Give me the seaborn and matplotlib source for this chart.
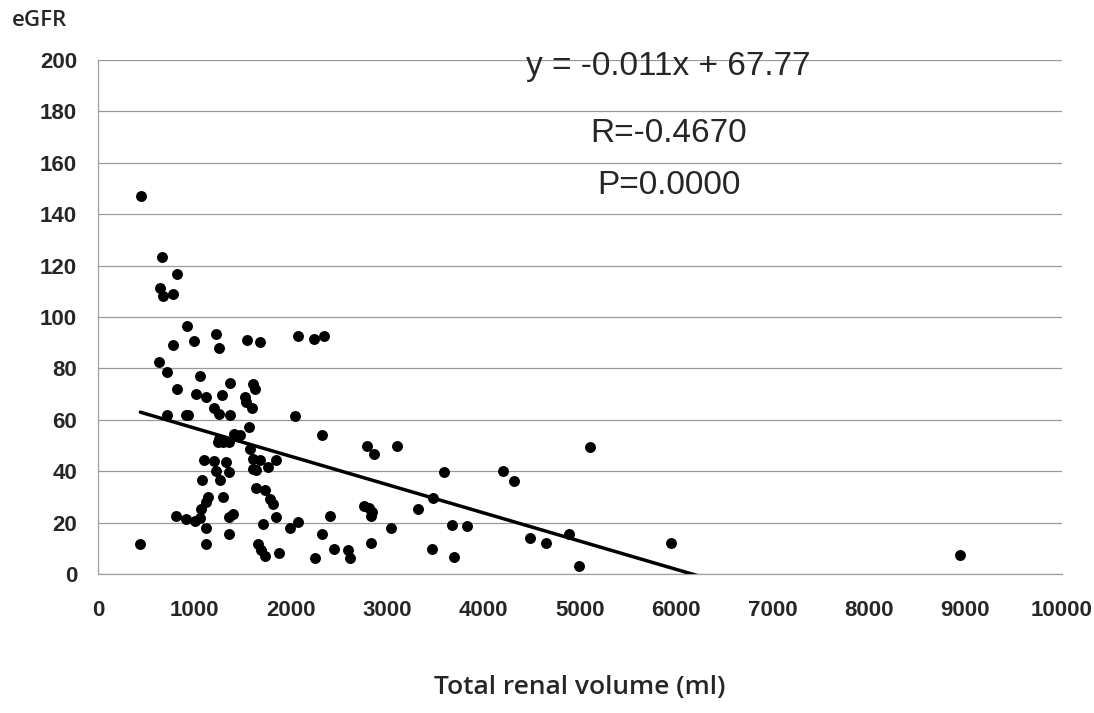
import numpy as np
import pandas as pd
import matplotlib
matplotlib.use("Agg")
import matplotlib.pyplot as plt
import seaborn as sns

# --- data ---
volume_ml = [
    446, 666, 823, 641, 677, 781, 927, 1220, 1548, 1681, 781, 997, 1259, 628, 718, 1060, 2078,
    823, 1015, 1119, 1374, 1283, 1610, 1630, 1520, 1538, 1597, 1206, 1259, 1374, 718, 910, 934,
    2043, 1562, 1416, 1468, 1259, 1294, 1363, 1241, 1572, 1102, 1199, 1328, 1607, 1677, 1851,
    1607, 1642, 1764, 1224, 1363, 1077, 1266, 1642, 1729, 1137, 1119, 1294, 1781, 1817, 1067,
    1398, 1363, 805, 910, 1004, 1060, 1845, 2078, 1119, 1712, 1991, 1357, 439, 1119, 1660,
    1695, 1736, 1880,
    2242, 2340, 2329, 2793, 2863, 3100, 3585, 3473, 2760, 2810, 2840, 2830, 3323, 2409, 3044,
    3672, 3828, 2322, 2828, 2451, 2591, 2612, 2252, 3466, 3693,
    5101, 4205, 4317, 4484, 4651, 4885, 4990, 5949, 8944,
]
egfr = [
    147, 123.3, 116.6, 111.4, 108, 108.8, 96.5, 93.5, 91.2, 90.4, 89.2, 90.7, 88.1, 82.5, 78.6, 76.9, 92.5,
    72.1, 70.2, 68.9, 74.3, 69.5, 74, 72, 68.9, 66.9, 64.7, 64.4, 62.4, 61.7, 61.7, 62, 61.7,
    61.4, 57, 54.6, 54, 52.7, 51.4, 51.4, 51.4, 48.8, 44.2, 44, 43.6, 44.9, 44.5, 44.5,
    41, 40.4, 41.6, 40, 39.7, 36.7, 36.5, 33.6, 32.6, 30, 28, 30, 29.3, 27.4, 25.4,
    23.5, 22.2, 22.5, 21.2, 20.6, 21.6, 22.2, 20.2, 17.7, 19.3, 17.7, 15.4, 11.8, 11.8, 11.6,
    9.2, 6.9, 8.3,
    91.3, 92.5, 54.2, 49.8, 46.5, 49.8, 39.7, 29.7, 26.5, 25.5, 24, 22.5, 25.4, 22.5, 17.7,
    19, 18.7, 15.4, 12.2, 9.9, 9.2, 6.4, 6.4, 9.9, 6.6,
    49.4, 40.1, 36.2, 13.8, 12.1, 15.4, 3.1, 12.2, 7.3,
]

# trendline as printed on the chart
slope = -0.011
intercept = 67.77
eq_text = "y = -0.011x + 67.77"
r_text = "R=-0.4670"
p_text = "P=0.0000"

x_ticks = [0, 1000, 2000, 3000, 4000, 5000, 6000, 7000, 8000, 9000, 10000]
y_ticks = [0, 20, 40, 60, 80, 100, 120, 140, 160, 180, 200]

df = pd.DataFrame({"volume": volume_ml, "egfr": egfr})
x_line = np.array([min(volume_ml), max(volume_ml)])
trend = pd.DataFrame({"volume": x_line, "egfr": slope * x_line + intercept})

# --- plot ---
sns.set_style("white")
plt.rcParams["font.family"] = ["Liberation Sans", "DejaVu Sans"]

fig = plt.figure(figsize=(10.94, 7.13), dpi=100)
ax = fig.add_axes([0.0896, 0.195, 0.881, 0.721])

sns.scatterplot(data=df, x="volume", y="egfr", ax=ax, color="black", s=62,
                edgecolor="black", linewidth=0, zorder=3)
sns.lineplot(data=trend, x="volume", y="egfr", ax=ax, color="black", linewidth=2.5, zorder=4)

ax.set_xlim(0, 10000)
ax.set_ylim(0, 200)
ax.set_xticks(x_ticks)
ax.set_yticks(y_ticks)
ax.set_xticklabels([str(v) for v in x_ticks], fontsize=16, fontweight="bold")
ax.set_yticklabels([str(v) for v in y_ticks], fontsize=16, fontweight="bold")
ax.tick_params(axis="x", length=0, pad=19)
ax.tick_params(axis="y", length=0, pad=15)
ax.yaxis.grid(True, color="#999999", linewidth=0.9)
ax.xaxis.grid(False)
for side in ["top", "right"]:
    ax.spines[side].set_visible(False)
for side in ["left", "bottom"]:
    ax.spines[side].set_color("#a0a0a0")
    ax.spines[side].set_linewidth(0.9)
ax.set_xlabel("")
ax.set_ylabel("")

fig.text(0.011, 1 - 20 / 713, "eGFR", fontsize=16, fontweight="semibold",
         family=["Open Sans", "DejaVu Sans"], va="center", ha="left")
fig.text(0.530, 1 - 688 / 713, "Total renal volume (ml)", fontsize=19, fontweight="semibold",
         family=["Open Sans", "DejaVu Sans"], va="center", ha="center")

fig.text(668 / 1094, 1 - 67 / 713, eq_text, fontsize=24, ha="center", va="center")
fig.text(669 / 1094, 1 - 133 / 713, r_text, fontsize=24, ha="center", va="center")
fig.text(669 / 1094, 1 - 185 / 713, p_text, fontsize=24, ha="center", va="center")

fig.savefig("out.png", dpi=100)
